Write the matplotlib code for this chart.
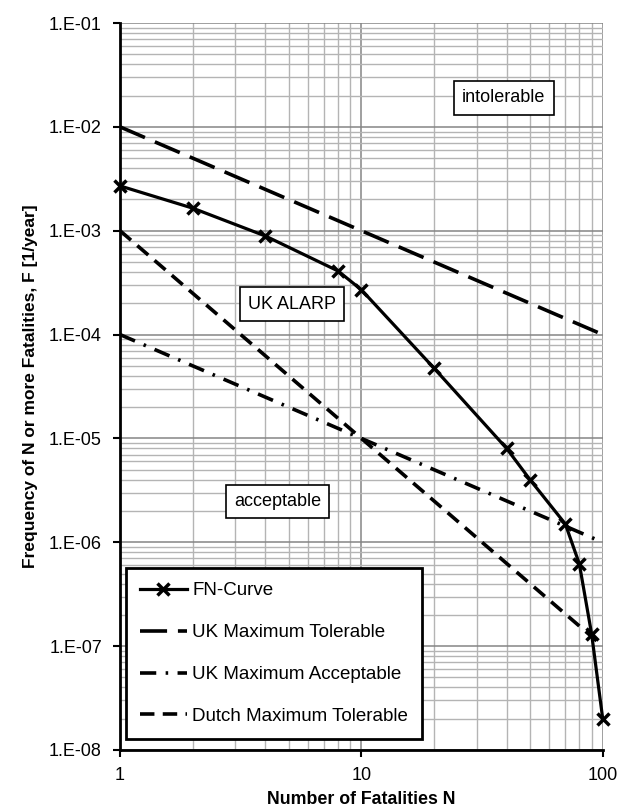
import numpy as np
import matplotlib
matplotlib.use("Agg")
import matplotlib.pyplot as plt
from matplotlib.ticker import FixedLocator, FuncFormatter, LogLocator, NullFormatter

plt.rcParams['font.family'] = ['Liberation Sans', 'DejaVu Sans']

# FN-curve
fn_n = [1, 2, 4, 8, 10, 20, 40, 50, 70, 80, 90, 100]
fn_f = [2.7e-3, 1.65e-3, 8.9e-4, 4.1e-4, 2.7e-4, 4.75e-5, 8.0e-6, 4.0e-6,
        1.5e-6, 6.2e-7, 1.3e-7, 2.0e-8]

# criterion lines (end points)
crit_n = [1, 100]
uk_tol_f = [1e-2, 1e-4]
uk_acc_f = [1e-4, 1e-6]
dutch_f = [1e-3, 1e-7]

x_ticks = [1, 10, 100]
y_ticks = [1e-8, 1e-7, 1e-6, 1e-5, 1e-4, 1e-3, 1e-2, 1e-1]

fig = plt.figure(figsize=(6.22, 8.08), dpi=100)
ax = fig.add_axes([0.193, 0.0718, 0.776, 0.8997])
ax.set_xscale('log')
ax.set_yscale('log')
ax.set_xlim(1, 100)
ax.set_ylim(1e-8, 1e-1)

# grid
ax.xaxis.set_major_locator(FixedLocator(x_ticks))
ax.yaxis.set_major_locator(FixedLocator(y_ticks))
ax.xaxis.set_minor_locator(LogLocator(base=10, subs=np.arange(2, 10)))
ax.yaxis.set_minor_locator(LogLocator(base=10, subs=np.arange(2, 10), numticks=20))
ax.xaxis.set_minor_formatter(NullFormatter())
ax.yaxis.set_minor_formatter(NullFormatter())
ax.grid(True, which='major', color='#858585', linewidth=1.1)
ax.grid(True, which='minor', color='#b4b4b4', linewidth=1.0)
ax.set_axisbelow(True)

ax.xaxis.set_major_formatter(FuncFormatter(lambda v, p: f"{v:g}"))
ax.yaxis.set_major_formatter(FuncFormatter(lambda v, p: f"1.E-{int(round(-np.log10(v))):02d}"))
ax.tick_params(which='major', direction='out', length=5, width=1.5, labelsize=13, colors='black')
ax.tick_params(which='minor', length=0)
ax.tick_params(axis='x', pad=7)
ax.tick_params(axis='y', pad=8)

for s in ['top', 'right']:
    ax.spines[s].set_visible(False)
for s in ['left', 'bottom']:
    ax.spines[s].set_linewidth(2)

# lines
ax.plot(fn_n, fn_f, color='black', linewidth=2.3, marker='x', markersize=9,
        markeredgewidth=2.5, label='FN-Curve', zorder=5, clip_on=False)
ax.plot(crit_n, uk_tol_f, color='black', linewidth=2.6, dashes=(7.5, 3.0),
        label='UK Maximum Tolerable')
ax.plot(crit_n, uk_acc_f, color='black', linewidth=2.6, dashes=(4.5, 2.6, 0.7, 2.6),
        label='UK Maximum Acceptable')
ax.plot(crit_n, dutch_f, color='black', linewidth=2.6, dashes=(4.0, 2.3),
        label='Dutch Maximum Tolerable')

box = dict(boxstyle='square,pad=0.45', facecolor='white', edgecolor='black', linewidth=1.2)
ax.text(38.9, 1.9e-2, 'intolerable', fontsize=13, ha='center', va='center', bbox=box)
ax.text(5.15, 1.97e-4, 'UK ALARP', fontsize=13, ha='center', va='center', bbox=box)
ax.text(4.5, 2.45e-6, 'acceptable', fontsize=13, ha='center', va='center', bbox=box)

leg = ax.legend(loc='lower left', bbox_to_anchor=(0.012, 0.015), borderaxespad=0,
                fontsize=13.5, fancybox=False, framealpha=1, edgecolor='black',
                handlelength=2.5, labelspacing=1.32, borderpad=0.75, handletextpad=0.3)
leg.get_frame().set_linewidth(2)

ax.set_xlabel('Number of Fatalities N', fontsize=12.8, fontweight='bold', labelpad=5)
ax.set_ylabel('Frequency of N or more Fatalities, F [1/year]', fontsize=12.5,
              fontweight='bold', labelpad=8)

fig.savefig('out.png', dpi=100)
